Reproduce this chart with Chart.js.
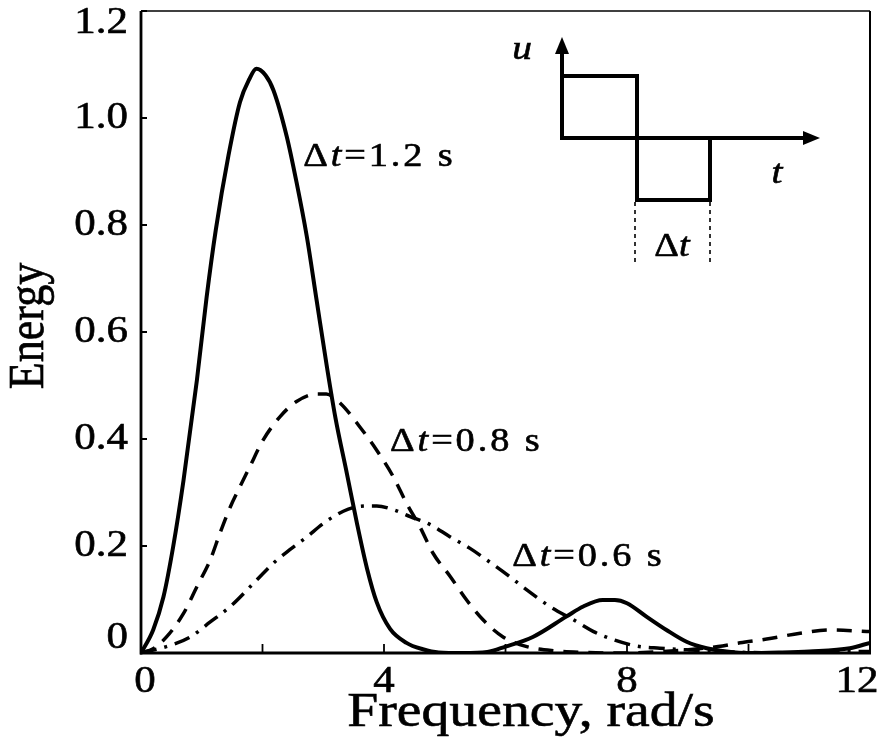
<!DOCTYPE html>
<html>
<head>
<meta charset="utf-8">
<title>Energy spectrum of a doublet pulse</title>
<script src="https://cdn.jsdelivr.net/npm/chart.js@4.4.1/dist/chart.umd.min.js"></script>
<style>
  html, body { margin: 0; padding: 0; background: #fff; }
  #wrap { width: 881px; height: 747px; }
</style>
</head>
<body>
<div id="wrap"><canvas id="chart" width="881" height="747"></canvas></div>
<script>
// Axis ticks
const freqTicks = [0, 2, 4, 6, 8, 10, 12];
const freqTickLabels = ['0', '', '4', '', '8', '', '12'];
const energyTicks = [0, 0.2, 0.4, 0.6, 0.8, 1.0, 1.2];
const energyTickLabels = ['0', '0.2', '0.4', '0.6', '0.8', '1.0', '1.2'];

// Δt = 1.2 s (solid)
const freq12 = [0, 0.2, 0.37, 0.53, 0.7, 0.92, 1.08, 1.23, 1.44, 1.63, 1.78, 1.9, 2.05, 2.18, 2.4, 2.56, 2.73, 2.89, 3.06, 3.2, 3.39, 3.55, 3.72, 3.88, 4.1, 4.37, 4.64, 4.9, 5.3, 5.7, 6.0, 6.45, 7.0, 7.28, 7.6, 7.8, 8.0, 8.32, 8.65, 8.98, 9.31, 9.64, 10.0, 10.5, 11.0, 11.67, 12];
const energy12 = [0, 0.043, 0.105, 0.199, 0.323, 0.51, 0.665, 0.79, 0.93, 1.03, 1.072, 1.092, 1.08, 1.052, 0.965, 0.88, 0.778, 0.66, 0.535, 0.44, 0.335, 0.245, 0.158, 0.095, 0.045, 0.019, 0.007, 0.001, 0, 0.002, 0.012, 0.030, 0.068, 0.087, 0.099, 0.099, 0.093, 0.068, 0.043, 0.021, 0.009, 0.003, 0, 0.001, 0.003, 0.009, 0.019];

// Δt = 0.8 s (dashed)
const freq08 = [0, 0.2, 0.42, 0.7, 0.92, 1.14, 1.30, 1.47, 1.63, 1.79, 2.01, 2.29, 2.56, 2.89, 3.05, 3.28, 3.6, 3.88, 4.15, 4.37, 4.59, 4.81, 5.09, 5.36, 5.63, 5.96, 6.35, 6.8, 7.3, 7.85, 8.5, 9.0, 9.5, 9.86, 10.3, 10.85, 11.34, 11.84, 12];
const energy08 = [0, 0.008, 0.030, 0.074, 0.124, 0.174, 0.224, 0.273, 0.311, 0.348, 0.398, 0.442, 0.470, 0.484, 0.484, 0.467, 0.423, 0.379, 0.330, 0.280, 0.236, 0.186, 0.143, 0.099, 0.062, 0.030, 0.012, 0.004, 0.001, 0, 0.002, 0.006, 0.012, 0.019, 0.026, 0.037, 0.043, 0.041, 0.040];

// Δt = 0.6 s (dash-dot)
const freq06 = [0, 0.5, 0.81, 1.14, 1.47, 1.85, 2.18, 2.45, 2.73, 3.0, 3.33, 3.6, 3.88, 4.15, 4.43, 4.76, 5.09, 5.41, 5.74, 6.02, 6.35, 6.73, 7.12, 7.45, 7.8, 8.16, 8.54, 8.98, 9.5, 10.0, 10.47, 11.0, 11.5, 12];
const energy06 = [0, 0.015, 0.030, 0.058, 0.087, 0.130, 0.168, 0.193, 0.217, 0.242, 0.265, 0.274, 0.275, 0.268, 0.255, 0.240, 0.217, 0.196, 0.170, 0.147, 0.118, 0.087, 0.062, 0.040, 0.024, 0.013, 0.009, 0.006, 0.003, 0.001, 0, 0.001, 0.002, 0.003];

// Curve captions, anchored in data units (left edge, vertical middle)
const captionDt = ['1.2', '0.8', '0.6'];
const captionFreq = [2.67, 4.10, 6.11];
const captionEnergy = [0.927, 0.393, 0.178];

const SERIF = '"Liberation Serif", "Times New Roman", Times, serif';
const STRETCH = 1.16; // lettering is drawn slightly wide

function pairs(xs, ys) { return xs.map((x, i) => ({ x: x, y: ys[i] })); }

// Draw a run of text pieces [text, italic] with a horizontal stretch.
function drawRich(ctx, pieces, x, y, size, align, rotate, spacing) {
  ctx.save();
  ctx.translate(x, y);
  ctx.scale(STRETCH, 1);
  if (rotate) ctx.rotate(rotate);
  ctx.textBaseline = 'middle';
  ctx.textAlign = 'left';
  ctx.fillStyle = '#000';
  ctx.strokeStyle = '#000';
  ctx.lineWidth = 0.6;
  ctx.letterSpacing = (spacing || 0) + 'px';
  const fonts = pieces.map(p => (p[1] ? 'italic ' : '') + size + 'px ' + SERIF);
  let total = 0;
  const widths = pieces.map((p, i) => {
    ctx.font = fonts[i];
    const w = ctx.measureText(p[0]).width;
    total += w;
    return w;
  });
  let cx = align === 'center' ? -total / 2 : (align === 'right' ? -total : 0);
  pieces.forEach((p, i) => {
    ctx.font = fonts[i];
    ctx.fillText(p[0], cx, 0);
    ctx.strokeText(p[0], cx, 0);
    cx += widths[i];
  });
  ctx.restore();
}

function line(ctx, x1, y1, x2, y2, w, dash) {
  ctx.save();
  ctx.lineWidth = w;
  ctx.strokeStyle = '#000';
  ctx.setLineDash(dash || []);
  ctx.beginPath();
  ctx.moveTo(x1, y1);
  ctx.lineTo(x2, y2);
  ctx.stroke();
  ctx.restore();
}

function arrowHead(ctx, tipX, tipY, dir) {
  // dir: 'up' or 'right'
  ctx.save();
  ctx.fillStyle = '#000';
  ctx.beginPath();
  if (dir === 'up') {
    ctx.moveTo(tipX, tipY);
    ctx.lineTo(tipX - 7, tipY + 17);
    ctx.lineTo(tipX + 7, tipY + 17);
  } else {
    ctx.moveTo(tipX, tipY);
    ctx.lineTo(tipX - 17, tipY - 7);
    ctx.lineTo(tipX - 17, tipY + 7);
  }
  ctx.closePath();
  ctx.fill();
  ctx.restore();
}

const decor = {
  id: 'decor',
  afterDraw(chart) {
    const ctx = chart.ctx;
    const a = chart.chartArea;
    const xs = chart.scales.x;
    const ys = chart.scales.y;

    // Frame
    line(ctx, a.left, a.top, a.left, a.bottom + 1.5, 2.8);
    line(ctx, a.left - 1, a.bottom, a.right + 1, a.bottom, 3);
    line(ctx, a.left, a.top, a.right, a.top, 1.6);
    line(ctx, a.right, a.top, a.right, a.bottom, 2);

    // Inward ticks
    energyTicks.forEach(v => {
      const py = ys.getPixelForValue(v);
      line(ctx, a.left, py, a.left + 6, py, 2);
    });
    freqTicks.forEach(v => {
      const px = xs.getPixelForValue(v);
      line(ctx, px, a.bottom, px, a.bottom - 9, 1.8);
    });

    // Tick labels (edge labels kept inside the frame span)
    energyTicks.forEach((v, i) => {
      const py = Math.min(Math.max(ys.getPixelForValue(v), a.top + 12), a.bottom - 15);
      drawRich(ctx, [[energyTickLabels[i], false]], a.left - 13, py, 37, 'right');
    });
    freqTicks.forEach((v, i) => {
      if (!freqTickLabels[i]) return;
      const px = Math.min(Math.max(xs.getPixelForValue(v), a.left + 4), a.right - 13);
      drawRich(ctx, [[freqTickLabels[i], false]], px, a.bottom + 29, 37, 'center');
    });

    // Axis titles
    drawRich(ctx, [['Frequency, rad/s', false]], a.left + 390, a.bottom + 60, 48, 'center');
    drawRich(ctx, [['Energy', false]], 30, (a.top + a.bottom) / 2 - 6, 44, 'center', -Math.PI / 2);

    // Curve captions
    captionDt.forEach((dt, i) => {
      const px = xs.getPixelForValue(captionFreq[i]);
      const py = ys.getPixelForValue(captionEnergy[i]);
      drawRich(ctx, [['\u0394', false], ['t', true], ['=' + dt + ' s', false]], px, py, 33, 'left', 0, 2.5);
    });

    // Inset: sketch of the doublet control pulse u(t)
    const ox = a.left + 421, oy = a.top + 127;
    line(ctx, ox, oy + 2, ox, oy - 90, 4);
    arrowHead(ctx, ox, oy - 101, 'up');
    line(ctx, ox - 2, oy, ox + 245, oy, 4);
    arrowHead(ctx, ox + 258, oy, 'right');
    ctx.save();
    ctx.lineWidth = 4;
    ctx.strokeStyle = '#000';
    ctx.lineJoin = 'miter';
    ctx.beginPath();
    ctx.moveTo(ox, oy - 62);
    ctx.lineTo(ox + 75, oy - 62);
    ctx.lineTo(ox + 75, oy + 62);
    ctx.lineTo(ox + 148, oy + 62);
    ctx.lineTo(ox + 148, oy);
    ctx.stroke();
    ctx.restore();
    line(ctx, ox + 73, oy + 64, ox + 73, oy + 128, 1.6, [4, 4]);
    line(ctx, ox + 148, oy + 64, ox + 148, oy + 128, 1.6, [4, 4]);
    drawRich(ctx, [['\u0394', false], ['t', true]], ox + 110, oy + 109, 33, 'center');
    drawRich(ctx, [['u', true]], ox - 40, oy - 88, 34, 'center');
    drawRich(ctx, [['t', true]], ox + 215, oy + 36, 34, 'center');
  }
};

const commonLine = {
  borderColor: '#000',
  pointRadius: 0,
  fill: false,
  cubicInterpolationMode: 'monotone',
  borderCapStyle: 'butt',
  borderJoinStyle: 'round'
};

new Chart(document.getElementById('chart'), {
  type: 'line',
  data: {
    datasets: [
      Object.assign({ label: '\u0394t=1.2 s', data: pairs(freq12, energy12), borderWidth: 4 }, commonLine),
      Object.assign({ label: '\u0394t=0.8 s', data: pairs(freq08, energy08), borderWidth: 3.5, borderDash: [15, 10] }, commonLine),
      Object.assign({ label: '\u0394t=0.6 s', data: pairs(freq06, energy06), borderWidth: 3.5, borderDash: [16, 8, 3, 8] }, commonLine)
    ]
  },
  options: {
    responsive: false,
    animation: false,
    layout: { padding: { top: 11, right: 11, left: 0, bottom: 0 } },
    plugins: { legend: { display: false }, tooltip: { enabled: false } },
    scales: {
      x: {
        type: 'linear', min: 0, max: 12,
        grid: { display: false }, border: { display: false },
        ticks: { display: false },
        afterBuildTicks: s => { s.ticks = freqTicks.map(v => ({ value: v })); },
        afterFit: s => { s.height = 94; s.paddingLeft = 0; s.paddingRight = 0; }
      },
      y: {
        type: 'linear', min: 0, max: 1.2,
        grid: { display: false }, border: { display: false },
        ticks: { display: false },
        afterBuildTicks: s => { s.ticks = energyTicks.map(v => ({ value: v })); },
        afterFit: s => { s.width = 141; s.paddingTop = 0; s.paddingBottom = 0; }
      }
    }
  },
  plugins: [decor]
});
</script>
</body>
</html>
